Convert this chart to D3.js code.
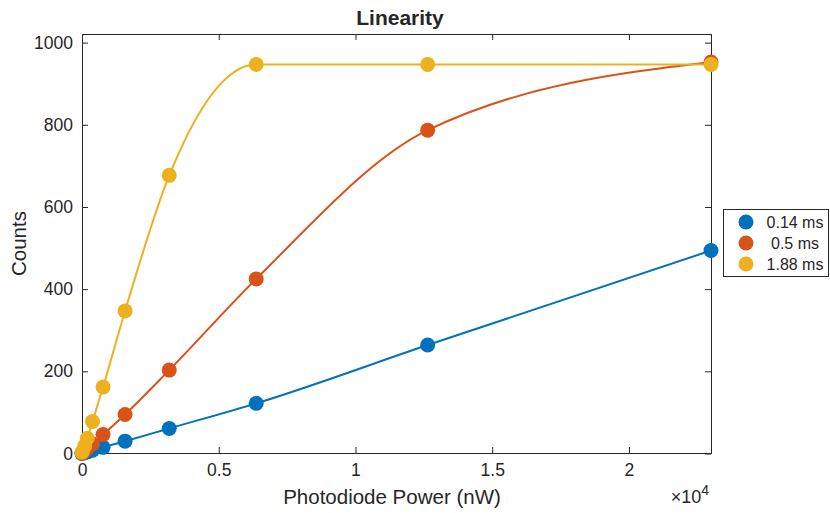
<!DOCTYPE html>
<html>
<head>
<meta charset="utf-8">
<script src="https://cdn.jsdelivr.net/npm/d3@7"></script>
<style>
  body { margin: 0; background: #fff; }
  text { font-family: "Liberation Sans", Arial, sans-serif; fill: #262626; }
</style>
</head>
<body>
<div class="chart_container"></div>
<script>
// photodiode power (nW)
var power = [0, 96, 192, 385, 770, 1575, 3190, 6370, 12640, 23000];
var counts014 = [0, 2, 4, 8, 15, 30, 61, 122, 264, 494];
var counts05 = [1, 6, 12, 23, 46, 95, 203, 425, 787, 953];
var counts188 = [3, 18, 37, 78, 162, 347, 677, 947, 947, 947];
var seriesNames = ["0.14 ms", "0.5 ms", "1.88 ms"];
var colors = ["#0072BD", "#D95319", "#EDB120"];
var xTicks = [0, 5000, 10000, 15000, 20000];
var xTickLabels = ["0", "0.5", "1", "1.5", "2"];
var yTicks = [0, 200, 400, 600, 800, 1000];

var width = 830, height = 513;
var margin = {left: 82, right: 119, top: 34, bottom: 60};

var svg = d3.select(".chart_container").append("svg")
    .attr("width", width)
    .attr("height", height);

var x = d3.scaleLinear()
    .domain([0, 23000])
    .range([margin.left, width - margin.right]);

var y = d3.scaleLinear()
    .domain([0, 1021])
    .range([height - margin.bottom + 0.5, margin.top]);

var x0 = margin.left, x1 = width - margin.right;
var y0 = height - margin.bottom, y1 = margin.top;

// axes (ticks inside, box on)
var tickLen = 6;
svg.append("g")
    .attr("transform", "translate(0," + y0 + ")")
    .call(d3.axisBottom(x).tickValues(xTicks).tickFormat((d, i) => xTickLabels[i]).tickSizeInner(-tickLen).tickSizeOuter(0).tickPadding(11))
    .call(g => g.selectAll("text").style("font-size", "17.5px").style("font-family", "Liberation Sans, Arial, sans-serif").attr("fill", "#262626"));
svg.append("g")
    .attr("transform", "translate(0," + y1 + ")")
    .call(d3.axisTop(x).tickValues(xTicks).tickFormat("").tickSizeInner(-tickLen).tickSizeOuter(0));
svg.append("g")
    .attr("transform", "translate(" + x0 + ",0)")
    .call(d3.axisLeft(y).tickValues(yTicks).tickFormat(d3.format("d")).tickSizeInner(-tickLen).tickSizeOuter(0).tickPadding(9))
    .call(g => g.selectAll("text").style("font-size", "17.5px").style("font-family", "Liberation Sans, Arial, sans-serif").attr("fill", "#262626"));
svg.append("g")
    .attr("transform", "translate(" + x1 + ",0)")
    .call(d3.axisRight(y).tickValues(yTicks).tickFormat("").tickSizeInner(-tickLen).tickSizeOuter(0));
svg.selectAll(".domain").attr("stroke", "#262626");
svg.selectAll(".tick line").attr("stroke", "#262626");

svg.append("rect")
    .attr("x", x0 + 0.5).attr("y", y1 + 0.5)
    .attr("width", x1 - x0).attr("height", y0 - y1)
    .attr("fill", "none").attr("stroke", "#262626").attr("stroke-width", 1);

// series
var allSeries = [counts014, counts05, counts188];
var line = d3.line()
    .x((d, i) => x(power[i]))
    .y(d => y(d))
    .curve(d3.curveMonotoneX);

var plot = svg.append("g");
allSeries.forEach(function(vals, k) {
  plot.append("path")
    .datum(vals)
    .attr("d", line)
    .attr("fill", "none")
    .attr("stroke", colors[k])
    .attr("stroke-width", 2);
});
allSeries.forEach(function(vals, k) {
  plot.selectAll(".dot" + k)
    .data(vals)
    .enter().append("circle")
      .attr("cx", (d, i) => x(power[i]))
      .attr("cy", d => y(d))
      .attr("r", 7.5)
      .attr("fill", colors[k]);
});

// labels
svg.append("text")
    .attr("x", 400).attr("y", 25)
    .attr("text-anchor", "middle")
    .style("font-size", "21px").style("font-weight", "bold")
    .attr("fill", "#000")
    .text("Linearity");

svg.append("text")
    .attr("x", 392).attr("y", 504)
    .attr("text-anchor", "middle")
    .style("font-size", "20.5px")
    .text("Photodiode Power (nW)");

svg.append("text")
    .attr("transform", "translate(26," + ((y0 + y1) / 2) + ") rotate(-90)")
    .attr("text-anchor", "middle")
    .style("font-size", "20.5px")
    .text("Counts");

var expo = svg.append("text")
    .attr("x", x1 - 2).attr("y", 503)
    .attr("text-anchor", "end")
    .style("font-size", "18px");
expo.append("tspan").text("\u00d710");
expo.append("tspan").attr("dy", -8).style("font-size", "14px").text("4");

// legend
var legend = svg.append("g").attr("transform", "translate(723,209)");
legend.append("rect")
    .attr("x", 0.5).attr("y", 0.5)
    .attr("width", 105).attr("height", 67)
    .attr("fill", "#fff").attr("stroke", "#262626");
seriesNames.forEach(function(name, k) {
  legend.append("circle")
    .attr("cx", 23).attr("cy", 13 + k * 21)
    .attr("r", 7.5)
    .attr("fill", colors[k]);
  legend.append("text")
    .attr("x", 72).attr("y", 13 + k * 21 + 5.5)
    .attr("text-anchor", "middle")
    .style("font-size", "16px")
    .text(name);
});
</script>
</body>
</html>
